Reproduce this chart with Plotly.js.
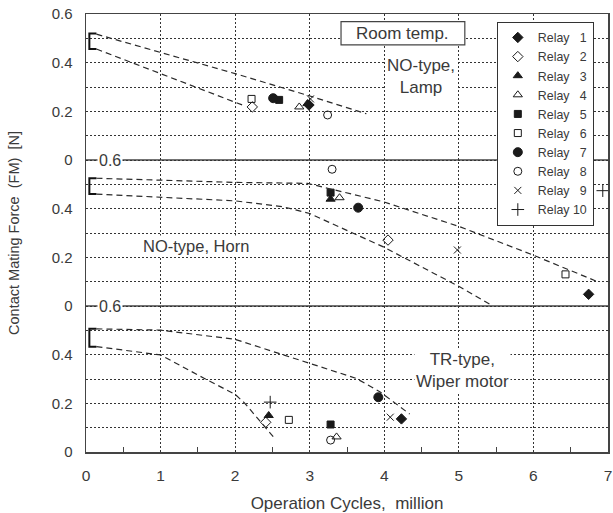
<!DOCTYPE html>
<html>
<head>
<meta charset="utf-8">
<script src="https://cdn.plot.ly/plotly-3.0.1.min.js"></script>
<style>html,body{margin:0;padding:0;background:#fff;}#chart{width:613px;height:513px;}</style>
</head>
<body>
<div id="chart"></div>
<script>
// ---- data ----
var relayNames = ['Relay\u2007 1','Relay\u2007 2','Relay\u2007 3','Relay\u2007 4','Relay\u2007 5','Relay\u2007 6','Relay\u2007 7','Relay\u2007 8','Relay\u2007 9','Relay 10'];
// NO-type, Lamp (top panel)
var lampCycles = [2.99, 2.23, 2.97, 2.86, 2.59, 2.22, 2.51, 3.24, 3.01, null];
var lampForce  = [0.226, 0.218, 0.232, 0.218, 0.247, 0.251, 0.254, 0.185, 0.251, null];
// NO-type, Horn (middle panel)
var hornCycles = [6.74, 4.05, 3.28, 3.40, 3.28, 6.43, 3.65, 3.30, 4.98, 6.93];
var hornForce  = [0.048, 0.271, 0.439, 0.445, 0.466, 0.130, 0.404, 0.562, 0.230, 0.474];
// TR-type, Wiper motor (bottom panel)
var wiperCycles = [4.23, 2.41, 2.45, 3.36, 3.28, 2.72, 3.92, 3.28, 4.08, 2.47];
var wiperForce  = [0.136, 0.122, 0.150, 0.062, 0.113, 0.132, 0.225, 0.049, 0.143, 0.205];

// dashed trend bounds
var lampUpX = [0.14, 2.0, 2.98, 3.76];
var lampUpY = [0.517, 0.355, 0.265, 0.19];
var lampLoX = [0.14, 2.13];
var lampLoY = [0.456, 0.222];
var hornUpX = [0.14, 1, 2, 2.97, 3.98, 5.01, 5.99, 6.86];
var hornUpY = [0.525, 0.518, 0.508, 0.504, 0.429, 0.326, 0.210, 0.100];
var hornLoX = [0.14, 1, 2, 2.64, 3.0, 3.98, 5.01, 5.41];
var hornLoY = [0.460, 0.447, 0.432, 0.408, 0.380, 0.244, 0.079, 0.008];
var wiperUpX = [0.14, 1, 2, 2.98, 3.62, 3.94, 4.34];
var wiperUpY = [0.506, 0.501, 0.463, 0.368, 0.303, 0.248, 0.156];
var wiperLoX = [0.14, 1, 1.57, 2.0, 2.13, 2.53];
var wiperLoY = [0.433, 0.399, 0.305, 0.237, 0.200, 0.056];

// initial force ranges (brackets at 0 cycles)
var initLow  = [0.456, 0.460, 0.433];   // lamp, horn, wiper
var initHigh = [0.520, 0.525, 0.506];

var yTickText = ['0','0.2','0.4','0','0.2','0.4','0','0.2','0.4','0.6'];

// ---- styling / construction ----
var panelOffset = {lamp: 1.2, horn: 0.6, wiper: 0};
var symbols = ['diamond','diamond-open','triangle-up','triangle-up-open','square','square-open','circle','circle-open','x-thin-open','cross-thin-open'];
var sizes = [8, 8, 8, 8, 7, 7, 9, 8, 7, 9];
var ink = '#1a1a1a';
var txt = '#3a3a3a';

var traces = [];
for (var i = 0; i < relayNames.length; i++) {
  var xs = [], ys = [];
  [[lampCycles, lampForce, panelOffset.lamp],[hornCycles, hornForce, panelOffset.horn],[wiperCycles, wiperForce, panelOffset.wiper]].forEach(function (p) {
    if (p[0][i] !== null) { xs.push(p[0][i]); ys.push(p[1][i] + p[2]); }
  });
  traces.push({
    type: 'scatter', mode: 'markers', name: relayNames[i], x: xs, y: ys,
    cliponaxis: false,
    marker: {symbol: symbols[i], size: sizes[i], color: ink, line: {color: ink, width: 1}}
  });
}
function curve(xa, ya, off) {
  return {type: 'scatter', mode: 'lines', x: xa, y: ya.map(function (v) { return v + off; }),
    showlegend: false, hoverinfo: 'skip', line: {color: '#2a2a2a', width: 1.2, dash: '6px,4px'}};
}
traces.push(curve(lampUpX, lampUpY, panelOffset.lamp));
traces.push(curve(lampLoX, lampLoY, panelOffset.lamp));
traces.push(curve(hornUpX, hornUpY, panelOffset.horn));
traces.push(curve(hornLoX, hornLoY, panelOffset.horn));
traces.push(curve(wiperUpX, wiperUpY, panelOffset.wiper));
traces.push(curve(wiperLoX, wiperLoY, panelOffset.wiper));
var offs = [panelOffset.lamp, panelOffset.horn, panelOffset.wiper];
for (var k = 0; k < 3; k++) {
  traces.push({type: 'scatter', mode: 'lines', showlegend: false, hoverinfo: 'skip',
    x: [0.14, 0.045, 0.045, 0.14],
    y: [initHigh[k] + offs[k], initHigh[k] + offs[k], initLow[k] + offs[k], initLow[k] + offs[k]],
    line: {color: '#111', width: 2}});
}

var fontFam = '"Liberation Sans", Arial, Helvetica, sans-serif';
var layout = {
  width: 613, height: 513,
  margin: {l: 86, r: 5, t: 14, b: 61},
  paper_bgcolor: '#fff', plot_bgcolor: '#fff',
  font: {family: fontFam, size: 15, color: txt},
  showlegend: true,
  legend: {x: 0.787, y: 0.982, xanchor: 'left', yanchor: 'top', bgcolor: '#fff',
    bordercolor: '#333', borderwidth: 1, font: {size: 12.4, color: txt}, tracegroupgap: 0,
    entrywidth: 56, entrywidthmode: 'pixels'},
  xaxis: {range: [0, 7], dtick: 1, tick0: 0, showline: true, mirror: true, linecolor: '#444', linewidth: 1.5,
    showgrid: true, gridcolor: '#333', gridwidth: 1, griddash: '2px,2px', zeroline: false,
    ticks: 'inside', ticklen: 0, ticklabelstandoff: 9, tickfont: {size: 15.5, color: txt},
    minor: {tick0: 0.5, dtick: 1, ticks: 'inside', ticklen: 5, tickcolor: '#444', showgrid: false},
    title: {text: 'Operation Cycles,\u00a0\u00a0million', standoff: 18, font: {size: 17, color: txt}}},
  yaxis: {range: [0, 1.8], tickmode: 'array', tickvals: [0,0.2,0.4,0.6,0.8,1.0,1.2,1.4,1.6,1.8], ticktext: yTickText,
    showline: true, mirror: true, linecolor: '#444', linewidth: 1.5, zeroline: false, tickfont: {size: 15, color: txt},
    showgrid: true, gridcolor: '#333', gridwidth: 1, griddash: '2px,2px', ticks: '', ticklabelstandoff: 9,
    minor: {dtick: 0.1, tick0: 0, showgrid: true, gridcolor: '#333', gridwidth: 1, griddash: '2px,2px'},
    title: {text: 'Contact Mating Force\u00a0\u00a0(FM)\u00a0\u00a0[N]', standoff: 28, font: {size: 14.5, color: txt}}},
  shapes: [
    {type: 'line', xref: 'paper', yref: 'y', x0: 0, x1: 1, y0: 0.6, y1: 0.6, layer: 'between', line: {color: '#444', width: 1.5}},
    {type: 'line', xref: 'paper', yref: 'y', x0: 0, x1: 1, y0: 1.2, y1: 1.2, layer: 'between', line: {color: '#444', width: 1.5}},
    {type: 'rect', xref: 'x', yref: 'y', x0: 3.42, x1: 5.08, y0: 1.673, y1: 1.769, layer: 'between', fillcolor: '#fff', line: {color: '#444', width: 1.2}}
  ],
  annotations: [
    {x: 0.32, y: 0.6, xref: 'x', yref: 'y', text: '0.6', showarrow: false, bgcolor: '#fff', font: {size: 16, color: txt}, borderpad: 1},
    {x: 0.32, y: 1.2, xref: 'x', yref: 'y', text: '0.6', showarrow: false, bgcolor: '#fff', font: {size: 16, color: txt}, borderpad: 1},
    {x: 4.25, y: 1.721, xref: 'x', yref: 'y', text: 'Room temp.', showarrow: false, font: {size: 17, color: txt}},
    {x: 4.49, y: 1.545, xref: 'x', yref: 'y', text: 'NO-type,<br>Lamp', showarrow: false, bgcolor: '#fff', font: {size: 17, color: txt}},
    {x: 1.48, y: 0.848, xref: 'x', yref: 'y', text: 'NO-type, Horn', showarrow: false, bgcolor: '#fff', font: {size: 16.5, color: txt}},
    {x: 5.05, y: 0.333, xref: 'x', yref: 'y', text: 'TR-type,<br>Wiper motor', showarrow: false, bgcolor: '#fff', font: {size: 17, color: txt}}
  ]
};
Plotly.newPlot('chart', traces, layout, {staticPlot: true, displayModeBar: false});
</script>
</body>
</html>
